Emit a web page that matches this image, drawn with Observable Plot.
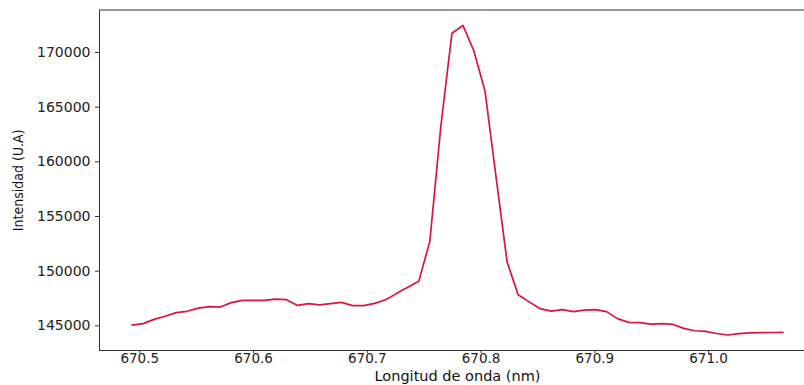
<!DOCTYPE html>
<html>
<head>
<meta charset="utf-8">
<script src="https://cdn.jsdelivr.net/npm/d3@7"></script>
<script src="https://cdn.jsdelivr.net/npm/@observablehq/plot@0.6"></script>
<style>
  html, body { margin: 0; padding: 0; background: #fff; overflow: hidden; }
  .ylab text { font-stretch: condensed; }
</style>
</head>
<body>
<div id="chart"></div>
<script>
const wavelength = [
  670.4932, 670.5029, 670.5126, 670.5223, 670.5320, 670.5417, 670.5514, 670.5611, 670.5708, 670.5805,
  670.5902, 670.5999, 670.6096, 670.6193, 670.6290, 670.6387, 670.6484, 670.6581, 670.6677, 670.6774,
  670.6871, 670.6968, 670.7065, 670.7162, 670.7259, 670.7356, 670.7453, 670.7550, 670.7647, 670.7744,
  670.7841, 670.7938, 670.8035, 670.8132, 670.8229, 670.8326, 670.8423, 670.8520, 670.8617, 670.8714,
  670.8811, 670.8908, 670.9005, 670.9102, 670.9199, 670.9296, 670.9393, 670.9490, 670.9587, 670.9684,
  670.9781, 670.9878, 670.9975, 671.0072, 671.0169, 671.0266, 671.0363, 671.0460, 671.0557, 671.0654
];
const intensity = [
  145070, 145200, 145590, 145880, 146210, 146330, 146620, 146750, 146720, 147120,
  147330, 147330, 147330, 147440, 147390, 146870, 147030, 146920, 147030, 147150,
  146850, 146850, 147060, 147390, 147970, 148520, 149070, 152750, 163300, 171760,
  172470, 170120, 166460, 158600, 150830, 147850, 147190, 146570, 146350, 146480,
  146300, 146440, 146480, 146300, 145660, 145320, 145300, 145150, 145200, 145140,
  144770, 144550, 144500, 144300, 144160, 144290, 144350, 144380, 144390, 144410
];
const xTicks = [670.5, 670.6, 670.7, 670.8, 670.9, 671.0];
const yTicks = [145000, 150000, 155000, 160000, 165000, 170000];
const xLabel = "Longitud de onda (nm)";
const yLabel = "Intensidad (U.A)";

const data = wavelength.map((w, i) => ({w, v: intensity[i]}));

const chart = Plot.plot({
  width: 815,
  height: 385,
  marginLeft: 99,
  marginRight: 0,
  marginTop: 9.5,
  marginBottom: 35,
  style: "max-width:none; background:#fff; font-family:'DejaVu Sans', sans-serif;",
  x: {domain: [670.4646, 671.094]},
  y: {domain: [142745, 173885]},
  marks: [
    Plot.frame({stroke: "#333", strokeWidth: 1}),
    Plot.axisX({ticks: xTicks, tickFormat: d => d.toFixed(1), tickSize: 3, tickPadding: 0,
      fontSize: 13.5, label: null, stroke: "#333", fill: "#222"}),
    Plot.axisY({ticks: yTicks, tickFormat: d => String(d), tickSize: 4, tickPadding: 5,
      fontSize: 14, label: null, stroke: "#333", fill: "#222"}),
    Plot.line(data, {x: "w", y: "v", stroke: "#DC143C", strokeWidth: 1.7}),
    Plot.text([xLabel], {frameAnchor: "bottom", lineAnchor: "bottom", dy: 30, fontSize: 14.5, fill: "#111",
      fontFamily: "'DejaVu Sans', sans-serif"}),
    Plot.text([yLabel], {frameAnchor: "left", textAnchor: "middle", rotate: -90, dx: -81, fontSize: 14,
      fill: "#111", className: "ylab",
      fontFamily: "'Liberation Sans Narrow', 'DejaVu Sans Condensed', 'DejaVu Sans', sans-serif"})
  ]
});
document.getElementById("chart").appendChild(chart);
</script>
</body>
</html>
